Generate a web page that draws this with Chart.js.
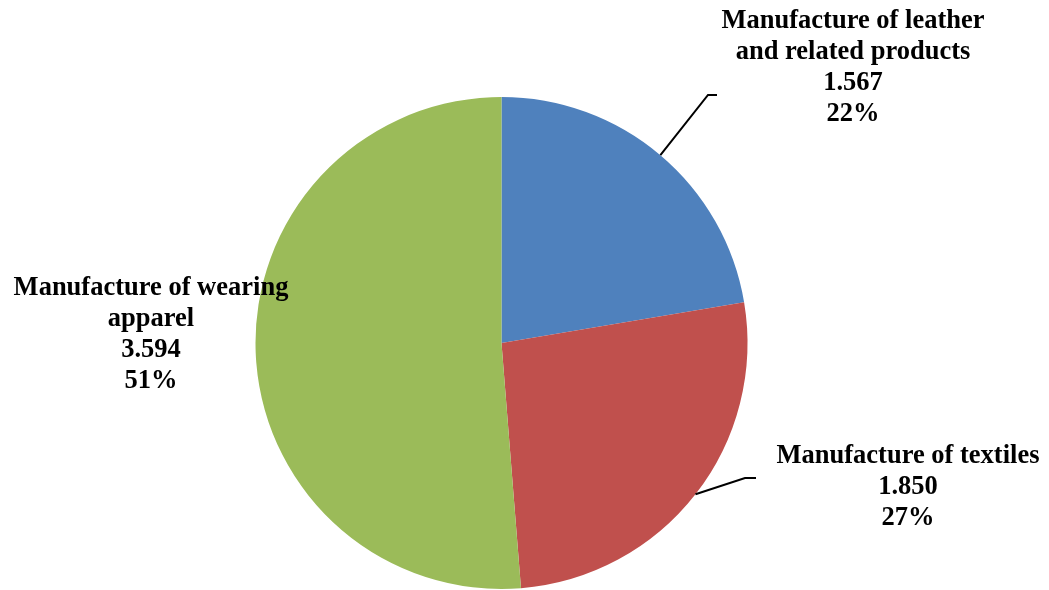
<!DOCTYPE html>
<html>
<head>
<meta charset="utf-8">
<script src="https://cdn.jsdelivr.net/npm/chart.js@4/dist/chart.umd.min.js"></script>
<style>
  html, body { margin: 0; padding: 0; background: #fff; }
  #wrap { width: 1049px; height: 590px; position: relative; }
</style>
</head>
<body>
<div id="wrap"><canvas id="pieChart"></canvas></div>
<script>
"use strict";

var categories = [
    'Manufacture of leather and related products',
    'Manufacture of textiles',
    'Manufacture of wearing apparel'
];
var values = [1.567, 1.850, 3.594];
var valueLabels = ['1.567', '1.850', '3.594'];
var percentLabels = ['22%', '27%', '51%'];
var labelLines = [
    ['Manufacture of leather', 'and related products'],
    ['Manufacture of textiles'],
    ['Manufacture of wearing', 'apparel']
];
var sliceColors = ['#4F81BD', '#C0504D', '#9BBB59'];

// where each label block sits (centre x, first line y) and its leader elbow
var labelPlaces = [
    { x: 853, y: 21, elbow: [708, 95], end: [717, 95] },
    { x: 908, y: 456, elbow: [745, 478], end: [756, 478] },
    { x: 151, y: 288, elbow: null, end: null }
];

var LINE_H = 31;

var labelPlugin = {
    id: 'sliceLabels',
    afterDraw: function (chart) {
        var ctx = chart.ctx;
        var arcs = chart.getDatasetMeta(0).data;
        ctx.save();
        ctx.font = 'bold 26.5px "Liberation Serif", "Times New Roman", serif';
        ctx.fillStyle = '#000';
        ctx.textAlign = 'center';
        ctx.textBaseline = 'middle';

        arcs.forEach(function (arc, i) {
            var place = labelPlaces[i];
            var lines = labelLines[i].concat([valueLabels[i], percentLabels[i]]);
            lines.forEach(function (t, j) {
                ctx.fillText(t, place.x, place.y + j * LINE_H);
            });

            if (place.elbow) {
                var p = arc.getProps(['x', 'y', 'startAngle', 'endAngle', 'outerRadius'], true);
                var mid = (p.startAngle + p.endAngle) / 2;
                ctx.beginPath();
                ctx.strokeStyle = '#000';
                ctx.lineWidth = 2;
                ctx.moveTo(p.x + Math.cos(mid) * p.outerRadius, p.y + Math.sin(mid) * p.outerRadius);
                ctx.lineTo(place.elbow[0], place.elbow[1]);
                ctx.lineTo(place.end[0], place.end[1]);
                ctx.stroke();
            }
        });
        ctx.restore();
    }
};

var pieChart = new Chart(document.getElementById('pieChart'), {
    type: 'pie',
    data: {
        labels: categories,
        datasets: [{
            data: values,
            backgroundColor: sliceColors,
            borderWidth: 0
        }]
    },
    options: {
        responsive: true,
        maintainAspectRatio: false,
        animation: false,
        layout: { padding: { top: 97, bottom: 1, left: 255, right: 301 } },
        plugins: {
            legend: { display: false },
            tooltip: { enabled: false }
        }
    },
    plugins: [labelPlugin]
});
</script>
</body>
</html>
